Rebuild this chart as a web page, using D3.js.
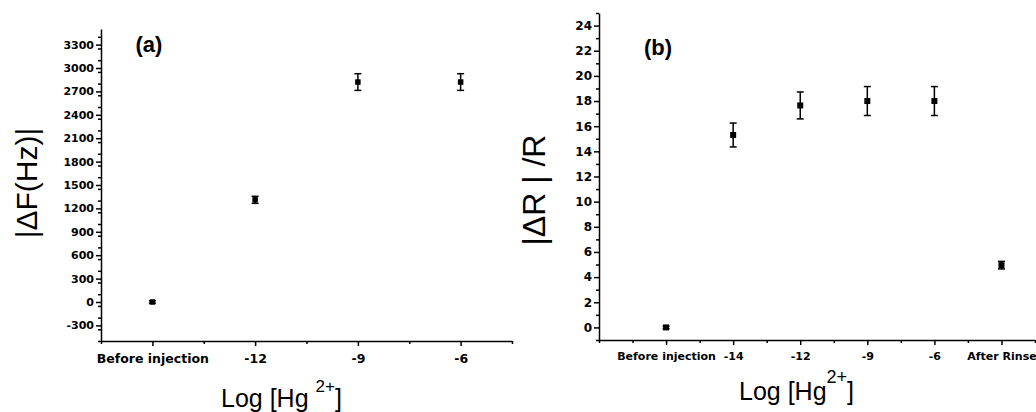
<!DOCTYPE html>
<html>
<head>
<meta charset="utf-8">
<script src="https://cdn.jsdelivr.net/npm/d3@7"></script>
<style>
  body { margin: 0; background: #fff; }
  svg { display: block; }
  .tick text { font-family: "DejaVu Sans", sans-serif; font-weight: bold; fill: #000; }
  .domain, .tick line { stroke: #000; stroke-width: 1.5; }
</style>
</head>
<body>
<svg id="fig" width="1036" height="412"></svg>
<script>
// panel (a): frequency shift
const catsA = ['Before injection', '-12', '-9', '-6'];
const valsA = [0, 1310, 2820, 2820];
const errA = [15, 45, 107, 107];
const yTicksA = [-300, 0, 300, 600, 900, 1200, 1500, 1800, 2100, 2400, 2700, 3000, 3300];

// panel (b): relative resistance change
const catsB = ['Before injection', '-14', '-12', '-9', '-6', 'After Rinse'];
const valsB = [0, 15.3, 17.65, 18.0, 18.0, 4.95];
const errB = [0.1, 0.95, 1.07, 1.15, 1.15, 0.3];
const yTicksB = [0, 2, 4, 6, 8, 10, 12, 14, 16, 18, 20, 22, 24];

const svg = d3.select('#fig');

function panel(opts) {
  const { cats, vals, errs, yTicks, xDomain, xRange, yDomain, yRange, yMinorStep,
          xFont, yFont, markSize, capW } = opts;
  const g = svg.append('g');
  const x = d3.scaleLinear().domain(xDomain).range(xRange);
  const y = d3.scaleLinear().domain(yDomain).range(yRange);

  // minor ticks first
  const yMinor = d3.range(yDomain[0], yDomain[1] + 1e-9, yMinorStep).filter(v => !yTicks.includes(v));
  g.append('g').attr('transform', `translate(${xRange[0]},0)`)
    .call(d3.axisLeft(y).tickValues(yMinor).tickSize(3).tickFormat('').tickSizeOuter(0))
    .call(s => s.select('.domain').remove());
  const xMinor = d3.range(xDomain[0], xDomain[1] + 1e-9, 0.5).filter(v => !(Number.isInteger(v) && v >= 0 && v < cats.length));
  g.append('g').attr('transform', `translate(0,${yRange[0]})`)
    .call(d3.axisBottom(x).tickValues(xMinor).tickSize(3).tickFormat('').tickSizeOuter(0))
    .call(s => s.select('.domain').remove());

  const yAxis = g.append('g').attr('transform', `translate(${xRange[0]},0)`)
    .call(d3.axisLeft(y).tickValues(yTicks).tickFormat(d => String(d))
      .tickSize(5).tickPadding(2).tickSizeOuter(0));
  yAxis.selectAll('text').style('font-size', yFont + 'px');

  const xAxis = g.append('g').attr('transform', `translate(0,${yRange[0]})`)
    .call(d3.axisBottom(x).tickValues(d3.range(cats.length)).tickFormat(i => cats[i])
      .tickSize(5).tickPadding(opts.xPad).tickSizeOuter(0));
  xAxis.selectAll('text').style('font-size', xFont + 'px');

  // error bars
  const eb = g.append('g').attr('stroke', '#000').attr('stroke-width', 1.5);
  vals.forEach((v, i) => {
    const cx = x(i), top = y(v + errs[i]), bot = y(v - errs[i]);
    eb.append('line').attr('x1', cx).attr('x2', cx).attr('y1', top).attr('y2', bot);
    eb.append('line').attr('x1', cx - capW / 2).attr('x2', cx + capW / 2).attr('y1', top).attr('y2', top);
    eb.append('line').attr('x1', cx - capW / 2).attr('x2', cx + capW / 2).attr('y1', bot).attr('y2', bot);
  });
  g.selectAll('rect.pt').data(vals).enter().append('rect')
    .attr('class', 'pt')
    .attr('x', (d, i) => x(i) - markSize / 2)
    .attr('y', d => y(d) - markSize / 2)
    .attr('width', markSize).attr('height', markSize)
    .attr('fill', '#000');
  return g;
}

panel({
  cats: catsA, vals: valsA, errs: errA, yTicks: yTicksA,
  xDomain: [-0.5, 3.5], xRange: [101, 512],
  yDomain: [-500, 3500], yRange: [341, 29], yMinorStep: 150,
  xFont: 12.5, yFont: 11, markSize: 5.5, capW: 7, xPad: 8
});

panel({
  cats: catsB, vals: valsB, errs: errB, yTicks: yTicksB,
  xDomain: [-1, 5.5], xRange: [599, 1035],
  yDomain: [-1, 25], yRange: [340, 13], yMinorStep: 1,
  xFont: 11, yFont: 12, markSize: 6, capW: 7, xPad: 7
});

// panel letters
svg.append('text').attr('x', 149).attr('y', 52).attr('text-anchor', 'middle')
  .style('font', 'bold 22px "Liberation Sans", Arial, sans-serif').text('(a)');
svg.append('text').attr('x', 658).attr('y', 55).attr('text-anchor', 'middle')
  .style('font', 'bold 22px "Liberation Sans", Arial, sans-serif').text('(b)');

// y titles
svg.append('text').attr('transform', 'translate(37,183) rotate(-90)').attr('text-anchor', 'middle')
  .style('font', '30px "Liberation Sans", Arial, sans-serif').text('|ΔF(Hz)|');
svg.append('text').attr('transform', 'translate(545,190) rotate(-90)').attr('text-anchor', 'middle')
  .style('font', '32px "Liberation Sans", Arial, sans-serif').text('|ΔR | /R');

// x titles
function xTitle(xx, yy, gap, supSize, shift) {
  const t = svg.append('text').attr('x', xx).attr('y', yy)
    .style('font', '25px "Liberation Sans", Arial, sans-serif');
  t.append('tspan').text('Log [Hg' + gap);
  t.append('tspan').attr('dy', -shift).style('font-size', supSize + 'px').text('2+');
  t.append('tspan').attr('dy', shift).text(']');
}
xTitle(221, 407, ' ', 17, 15);
xTitle(739, 400, '', 18, 17);
</script>
</body>
</html>
